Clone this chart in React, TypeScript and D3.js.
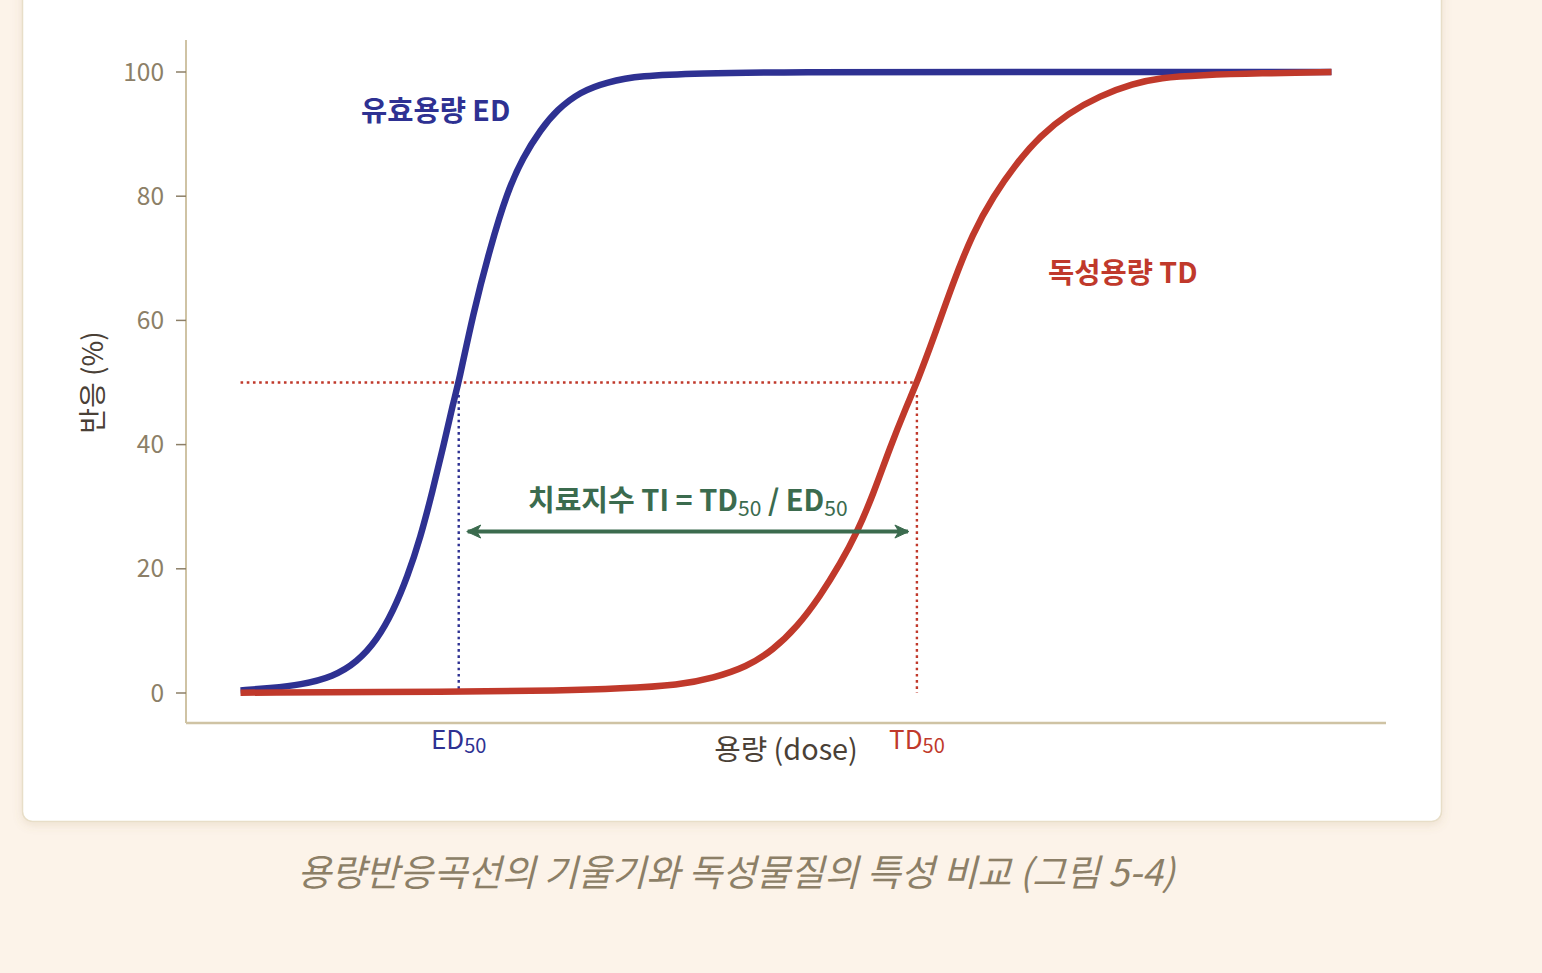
import React from 'react';
import * as d3 from 'd3';

// Dose-response curves (dose in arbitrary units, response in %)
const doseED = [0, 0.27, 0.55, 0.85, 1.07, 1.25, 1.4, 1.53, 1.65, 1.76, 1.86, 1.95, 2.0, 2.13, 2.29, 2.44, 2.59, 2.75, 2.9, 3.11, 3.36, 3.66, 4.21, 5, 7, 10];
const respED = [0.4, 0.8, 1.3, 2.6, 5.0, 8.5, 13.2, 18.7, 25.1, 32.5, 39.8, 46.8, 50, 61.0, 71.8, 80.5, 86.3, 90.7, 93.9, 96.8, 98.4, 99.4, 99.8, 100, 100, 100];

const doseTD = [0, 2.0, 2.93, 3.48, 4.03, 4.33, 4.64, 4.88, 5.1, 5.31, 5.5, 5.65, 5.8, 5.95, 6.11, 6.2, 6.35, 6.53, 6.71, 6.9, 7.12, 7.33, 7.58, 7.88, 8.18, 8.43, 8.8, 9.35, 10];
const respTD = [0.05, 0.2, 0.4, 0.7, 1.3, 2.4, 4.2, 6.9, 10.6, 15.5, 20.9, 25.8, 32.0, 39.4, 46.4, 50, 57.0, 66.0, 74, 80, 85.5, 89.7, 93.3, 96.2, 98.1, 99.1, 99.5, 99.8, 100];

const yTicks = [0, 20, 40, 60, 80, 100];
const ED50 = 2.0;
const TD50 = 6.2;
const arrowResponse = 26;

const FONT = '"Noto Sans CJK KR", "Noto Sans", sans-serif';
const BLUE = '#2e3192';
const RED = '#c0392b';
const GREEN = '#3b6b4e';
const AXIS = '#cfc3a4';
const TICK_TEXT = '#8c7f67';
const LABEL = '#4a4036';

const W = 1542;
const H = 973;
const frame = { left: 186, right: 1386, top: 40, bottom: 723 };

export default function App() {
  const x = d3.scaleLinear().domain([-0.5, 10.5]).range([frame.left, frame.right]);
  const y = d3.scaleLinear().domain([0, 100]).range([693, 72]);

  // basis smooths out the small reading noise between points
  const line = d3
    .line<[number, number]>()
    .x(d => x(d[0]))
    .y(d => y(d[1]))
    .curve(d3.curveBasis);

  const edPts = doseED.map((d, i) => [d, respED[i]] as [number, number]);
  const tdPts = doseTD.map((d, i) => [d, respTD[i]] as [number, number]);

  return (
    <svg
      width={W}
      height={H}
      style={{ position: 'absolute', left: 0, top: 0, display: 'block' }}
      fontFamily={FONT}
    >
      <defs>
        <filter id="cardShadow" x="-5%" y="-5%" width="110%" height="115%">
          <feDropShadow dx="0" dy="3" stdDeviation="5" floodColor="#a08050" floodOpacity="0.16" />
        </filter>
        <marker id="arrowEnd" viewBox="0 0 16 16" refX="14" refY="8" markerWidth="16" markerHeight="16" markerUnits="userSpaceOnUse" orient="auto">
          <path d="M1,1.5 L15,8 L1,14.5 L5,8 Z" fill={GREEN} stroke={GREEN} strokeWidth={1} strokeLinejoin="round" />
        </marker>
        <marker id="arrowStart" viewBox="0 0 16 16" refX="14" refY="8" markerWidth="16" markerHeight="16" markerUnits="userSpaceOnUse" orient="auto-start-reverse">
          <path d="M1,1.5 L15,8 L1,14.5 L5,8 Z" fill={GREEN} stroke={GREEN} strokeWidth={1} strokeLinejoin="round" />
        </marker>
      </defs>

      {/* page + card */}
      <rect x={0} y={0} width={W} height={H} fill="#fcf3e9" />
      <rect x={22.5} y={-30} width={1419} height={851.5} rx={10} fill="#ffffff" stroke="#e8dec8" strokeWidth={1.5} filter="url(#cardShadow)" />

      {/* axes */}
      <line x1={frame.left} x2={frame.left} y1={frame.top} y2={frame.bottom} stroke={AXIS} strokeWidth={2} />
      <line x1={frame.left} x2={frame.right} y1={frame.bottom} y2={frame.bottom} stroke={AXIS} strokeWidth={2.5} />
      {yTicks.map(t => (
        <g key={t} transform={`translate(${frame.left},${y(t)})`}>
          <line x1={-10} x2={0} stroke={TICK_TEXT} strokeWidth={1.5} />
          <text x={-22} dy="0.35em" textAnchor="end" fontSize={24.5} fill={TICK_TEXT}>
            {t}
          </text>
        </g>
      ))}

      {/* reference lines at 50% */}
      <line x1={x(0)} x2={x(TD50)} y1={y(50)} y2={y(50)} stroke={RED} strokeWidth={2.4} strokeDasharray="2.6 3.6" />
      <line x1={x(ED50)} x2={x(ED50)} y1={y(48)} y2={y(0)} stroke={BLUE} strokeWidth={2.4} strokeDasharray="2.6 3.6" />
      <line x1={x(TD50)} x2={x(TD50)} y1={y(48)} y2={y(0)} stroke={RED} strokeWidth={2.4} strokeDasharray="2.6 3.6" />

      {/* curves */}
      <path d={line(edPts) ?? ''} fill="none" stroke={BLUE} strokeWidth={6.5} strokeLinecap="butt" />
      <path d={line(tdPts) ?? ''} fill="none" stroke={RED} strokeWidth={6.5} strokeLinecap="butt" />

      {/* therapeutic index arrow */}
      <line
        x1={x(ED50) + 9}
        x2={x(TD50) - 9}
        y1={y(arrowResponse)}
        y2={y(arrowResponse)}
        stroke={GREEN}
        strokeWidth={4}
        markerStart="url(#arrowStart)"
        markerEnd="url(#arrowEnd)"
      />
      <text x={(x(ED50) + x(TD50)) / 2} y={y(arrowResponse) - 21} textAnchor="middle" fontSize={29} fontWeight={700} fill={GREEN}>
        치료지수 TI = TD
        <tspan fontSize={21} fontWeight={400} dy={5}>50</tspan>
        <tspan dy={-5}> / ED</tspan>
        <tspan fontSize={21} fontWeight={400} dy={5}>50</tspan>
      </text>

      {/* curve labels */}
      <text x={361} y={121} fontSize={28.5} fontWeight={700} fill={BLUE}>
        유효용량 ED
      </text>
      <text x={1048} y={283} fontSize={28.5} fontWeight={700} fill={RED}>
        독성용량 TD
      </text>

      {/* x labels */}
      <text x={x(ED50)} y={749} textAnchor="middle" fontSize={26} fill={BLUE}>
        ED<tspan fontSize={20} dy={4}>50</tspan>
      </text>
      <text x={x(TD50)} y={749} textAnchor="middle" fontSize={26} fill={RED}>
        TD<tspan fontSize={20} dy={4}>50</tspan>
      </text>
      <text x={786} y={760} textAnchor="middle" fontSize={28.8} fill={LABEL}>
        용량 (dose)
      </text>
      <text transform={`translate(103,${y(50)}) rotate(-90)`} textAnchor="middle" fontSize={28} fill={LABEL}>
        반응 (%)
      </text>

      {/* caption */}
      <text x={736} y={886} textAnchor="middle" fontSize={37} fontStyle="italic" fill={TICK_TEXT}>
        용량반응곡선의 기울기와 독성물질의 특성 비교 (그림 5-4)
      </text>
    </svg>
  );
}
